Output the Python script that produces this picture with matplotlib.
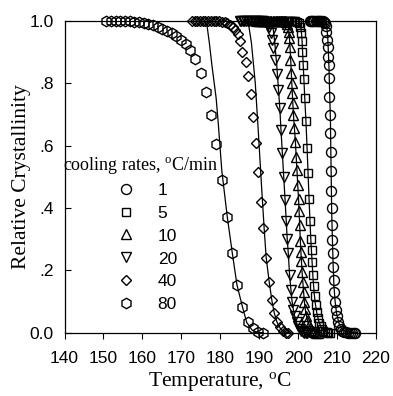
import matplotlib
matplotlib.use('Agg')
import matplotlib.pyplot as plt

plt.rcParams['font.family'] = ['Liberation Sans', 'DejaVu Sans']
plt.rcParams['mathtext.fontset'] = 'custom'
plt.rcParams['mathtext.rm'] = 'Liberation Serif'
plt.rcParams['mathtext.it'] = 'Liberation Serif:italic'

SANS = ['Liberation Sans', 'DejaVu Sans']
SERIF = ['Liberation Serif', 'DejaVu Serif']

# ---------------- data ----------------
rates = ['1', '5', '10', '20', '40', '80']
markers = ['o', 's', '^', 'v', 'D', 'h']
msizes = [7.2, 6.3, 7.2, 7.2, 5.0, 7.5]

T1 = [203.0, 203.3, 203.6, 203.9, 204.2, 204.5, 204.8, 205.1, 205.4, 205.7, 206.0, 206.3,
      206.6, 206.85, 207.05, 207.25, 207.4, 207.55, 207.7, 207.85, 207.95, 208.05, 208.15,
      208.25, 208.35, 208.45, 208.5, 208.6, 208.7, 208.8, 208.9, 209.0, 209.1, 209.25,
      209.45, 209.65, 209.9, 210.2, 210.5, 210.9, 211.3, 211.8, 212.3, 212.8, 213.3, 213.8,
      214.3, 214.7]
X1 = [1, 1, 1, 1, 1, 1, 1, 1, 1, 1, 1, 0.999, 0.997, 0.993, 0.985, 0.966, 0.94, 0.918,
      0.886, 0.86, 0.816, 0.757, 0.70, 0.64, 0.58, 0.518, 0.456, 0.40, 0.346, 0.298, 0.255,
      0.212, 0.17, 0.132, 0.10, 0.074, 0.052, 0.035, 0.022, 0.013, 0.007, 0.003, 0.001,
      0, 0, 0, 0, 0]

T5 = [194.5, 194.9, 195.3, 195.7, 196.1, 196.5, 196.9, 197.3, 197.7, 198.1, 198.5, 198.9,
      199.3, 199.7, 200.1, 200.4, 200.7, 200.9, 201.1, 201.3, 201.5, 201.75, 202.0, 202.3,
      202.55, 202.8, 203.05, 203.25, 203.45, 203.65, 203.85, 204.05, 204.3, 204.55, 204.85,
      205.15, 205.45, 205.8, 206.15, 206.5, 206.9, 207.3, 207.7, 208.1]
X5 = [1, 1, 1, 1, 1, 1, 1, 1, 1, 1, 1, 1, 1, 0.998, 0.993, 0.982, 0.962, 0.935, 0.90, 0.86,
      0.815, 0.754, 0.68, 0.592, 0.512, 0.43, 0.357, 0.30, 0.265, 0.228, 0.186, 0.149,
      0.117, 0.09, 0.065, 0.046, 0.031, 0.02, 0.012, 0.007, 0.003, 0.001, 0, 0]

T10 = [189.5, 189.9, 190.3, 190.7, 191.1, 191.5, 191.9, 192.3, 192.7, 193.1, 193.5, 193.9,
       194.3, 194.7, 195.1, 195.5, 195.9, 196.3, 196.6, 196.9, 197.2, 197.4, 197.55, 197.7,
       197.85, 198.0, 198.15, 198.3, 198.45, 198.6, 198.8, 199.05, 199.3, 199.5, 199.7,
       199.9, 200.1, 200.25, 200.4, 200.55, 200.7, 200.85, 201.0, 201.2, 201.4, 201.6,
       201.85, 202.1, 202.4, 202.7, 203.0, 203.4, 203.8, 204.2, 204.6, 205.0]
X10 = [1, 1, 1, 1, 1, 1, 1, 1, 1, 1, 1, 1, 1, 1, 1, 1, 1, 1, 0.999, 0.997, 0.99, 0.98,
       0.965, 0.945, 0.915, 0.875, 0.832, 0.80, 0.768, 0.736, 0.70, 0.656, 0.613, 0.565,
       0.522, 0.474, 0.43, 0.39, 0.346, 0.293, 0.26, 0.23, 0.196, 0.164, 0.132, 0.10,
       0.075, 0.055, 0.038, 0.025, 0.016, 0.009, 0.004, 0.001, 0, 0]

T20 = [185.0, 185.4, 185.8, 186.2, 186.6, 187.0, 187.4, 187.8, 188.2, 188.6, 189.0, 189.4,
       189.8, 190.2, 190.6, 191.0, 191.4, 191.8, 192.2, 192.6, 193.0, 193.3, 193.65, 194.0,
       194.5, 194.9, 195.3, 195.6, 195.95, 196.3, 196.65, 196.95, 197.2, 197.5, 197.8,
       198.15, 198.4, 198.8, 199.2, 199.6, 200.0, 200.4, 200.8, 201.2, 201.6, 202.0, 202.4]
X20 = [1, 1, 1, 1, 1, 1, 1, 1, 1, 1, 1, 1, 1, 1, 1, 0.999, 0.998, 0.996, 0.99, 0.98, 0.96,
       0.94, 0.912, 0.875, 0.83, 0.78, 0.72, 0.65, 0.576, 0.50, 0.426, 0.357, 0.30, 0.255,
       0.186, 0.138, 0.10, 0.074, 0.052, 0.035, 0.021, 0.011, 0.005, 0.002, 0, 0, 0]

T40 = [172.7, 173.4, 174.1, 174.8, 175.5, 176.2, 176.9, 177.6, 178.3, 179.0, 179.7, 180.4,
       181.1, 181.8, 182.5, 183.2, 183.9, 184.5, 185.1, 185.7, 186.5, 187.2, 187.9, 188.4,
       189.1, 189.8, 190.5, 191.1, 191.7, 192.5, 193.2, 193.9, 194.6, 195.3, 196.1, 196.8,
       197.5]
X40 = [1, 1, 1, 1, 1, 1, 1, 1, 1, 1, 1, 0.998, 0.996, 0.993, 0.988, 0.982, 0.972, 0.958,
       0.935, 0.90, 0.87, 0.824, 0.765, 0.693, 0.608, 0.515, 0.42, 0.335, 0.239, 0.164,
       0.105, 0.062, 0.035, 0.019, 0.004, 0, 0]

T80 = [150.7, 151.9, 153.1, 154.3, 155.5, 156.7, 157.9, 159.1, 160.3, 161.5, 162.7, 163.9,
       165.1, 166.3, 167.5, 168.7, 169.9, 171.2, 172.3, 173.5, 175.0, 176.4, 177.6, 178.9,
       180.4, 181.8, 183.1, 184.3, 185.7, 187.0, 188.4, 189.8, 191.0]
X80 = [1, 1, 1, 1, 1, 1, 0.998, 0.996, 0.993, 0.99, 0.986, 0.981, 0.975, 0.968, 0.96,
       0.951, 0.94, 0.925, 0.907, 0.877, 0.834, 0.773, 0.70, 0.604, 0.489, 0.372, 0.255,
       0.153, 0.083, 0.034, 0.014, 0.002, 0]

# fitted curves (solid lines)
F1_T = [206.5, 207.0, 207.3, 207.6, 207.9, 208.1, 208.3, 208.4, 208.5, 208.6, 208.8, 209.0,
        209.2, 209.5, 209.9, 210.5, 211.3, 212.5, 215.0]
F1_X = [1.0, 0.999, 0.99, 0.95, 0.86, 0.77, 0.68, 0.58, 0.50, 0.40, 0.30, 0.215, 0.15,
        0.10, 0.06, 0.03, 0.01, 0.002, 0.0]
F5_T = [199.8, 200.3, 200.7, 201.0, 201.3, 201.7, 202.0, 202.3, 202.55, 202.8, 203.05,
        203.3, 203.55, 203.8, 204.1, 204.4, 204.8, 205.3, 205.9, 206.7, 208.0]
F5_X = [1.0, 0.998, 0.985, 0.94, 0.86, 0.754, 0.68, 0.592, 0.512, 0.43, 0.357, 0.29, 0.235,
        0.18, 0.13, 0.095, 0.063, 0.037, 0.018, 0.006, 0.0]
F10_T = [196.5, 197.0, 197.4, 197.7, 198.0, 198.3, 198.6, 198.8, 199.05, 199.3, 199.5,
         199.7, 199.9, 200.1, 200.25, 200.4, 200.55, 200.7, 200.85, 201.0, 201.2, 201.4,
         201.6, 201.9, 202.3, 202.8, 203.5, 204.5, 205.5]
F10_X = [1.0, 0.998, 0.99, 0.96, 0.90, 0.82, 0.745, 0.70, 0.656, 0.613, 0.565, 0.522,
         0.474, 0.43, 0.39, 0.346, 0.30, 0.262, 0.23, 0.196, 0.164, 0.132, 0.10, 0.07,
         0.045, 0.025, 0.01, 0.002, 0.0]
F20_T = [192.5, 193.2, 193.6, 194.0, 194.5, 194.9, 195.3, 195.6, 195.95, 196.3, 196.65,
         196.95, 197.2, 197.5, 197.8, 198.15, 198.4, 198.8, 199.2, 199.7, 200.3, 201.0, 202.0]
F20_X = [1.0, 0.995, 0.975, 0.93, 0.86, 0.79, 0.72, 0.65, 0.576, 0.50, 0.426, 0.357, 0.30,
         0.25, 0.186, 0.138, 0.105, 0.072, 0.048, 0.027, 0.012, 0.004, 0.0]
F40_T = [186.0, 187.2, 188.0, 189.0, 189.8, 190.7, 191.3, 191.8, 192.6, 193.3, 193.9, 194.6,
         195.5, 196.5, 198.0]
F40_X = [1.0, 0.995, 0.93, 0.80, 0.64, 0.45, 0.33, 0.24, 0.16, 0.10, 0.062, 0.033, 0.012,
         0.002, 0.0]
F80_T = [175.0, 176.0, 176.55, 177.2, 177.84, 178.95, 179.5, 180.4, 181.8, 183.1, 184.3,
         185.7, 186.8, 188.2, 189.5, 191.0]
F80_X = [1.0, 0.998, 0.99, 0.93, 0.86, 0.752, 0.67, 0.52, 0.372, 0.255, 0.153, 0.083,
         0.033, 0.008, 0.001, 0.0]

data_T = [T1, T5, T10, T20, T40, T80]
data_X = [X1, X5, X10, X20, X40, X80]
fit_T = [F1_T, F5_T, F10_T, F20_T, F40_T, F80_T]
fit_X = [F1_X, F5_X, F10_X, F20_X, F40_X, F80_X]

xticks = [140, 150, 160, 170, 180, 190, 200, 210, 220]
yticks = [0.0, 0.2, 0.4, 0.6, 0.8, 1.0]
ytick_labels = ['0.0', '.2', '.4', '.6', '.8', '1.0']

# ---------------- figure ----------------
W, H = 393, 396
fig = plt.figure(figsize=(W / 100, H / 100), dpi=100)
ax = fig.add_axes([64.5 / W, 63.3 / H, 311.5 / W, 311.7 / H])

for ft, fx in zip(fit_T, fit_X):
    ax.plot(ft, fx, color='black', lw=0.9, zorder=2)

handles = []
for t, x, m, ms, lab in zip(data_T, data_X, markers, msizes, rates):
    ln, = ax.plot(t, x, linestyle='none', marker=m, markersize=ms,
                  markerfacecolor='none', markeredgecolor='black',
                  markeredgewidth=1.0, clip_on=False, zorder=3, label=lab)
    handles.append(ln)

ax.set_xlim(140, 220)
ax.set_ylim(0, 1.0)
ax.set_xticks(xticks)
ax.set_yticks(yticks)
ax.set_yticklabels(ytick_labels)

for sp in ax.spines.values():
    sp.set_linewidth(0.9)
    sp.set_color('black')

ax.tick_params(axis='x', direction='out', length=4, width=0.8, pad=9.5, labelsize=12.5)
ax.tick_params(axis='y', direction='in', length=4, width=0.8, pad=8, labelsize=12.5)
for lab in ax.get_xticklabels() + ax.get_yticklabels():
    lab.set_fontfamily(SANS)

ax.set_xlabel('Temperature, $^{\\mathrm{o}}$C', fontfamily=SERIF, fontsize=15.5)
ax.xaxis.set_label_coords(0.5, -0.12)
ax.set_ylabel('Relative Crystallinity', fontfamily=SERIF, fontsize=15.5)
ax.yaxis.set_label_coords(-0.107, 0.5)

ax.text(-0.004, 0.522, 'cooling rates, $^{\\mathrm{o}}$C/min', transform=ax.transAxes,
        fontfamily=SERIF, fontsize=13, ha='left', va='baseline')

leg = ax.legend(handles=handles, loc='upper left', bbox_to_anchor=(0.143, 0.482),
                frameon=False, borderpad=0, borderaxespad=0, handlelength=2.0,
                handletextpad=0.8, labelspacing=0.45, numpoints=1,
                prop={'family': SANS, 'size': 12.5})

fig.savefig('out.png', dpi=100)
